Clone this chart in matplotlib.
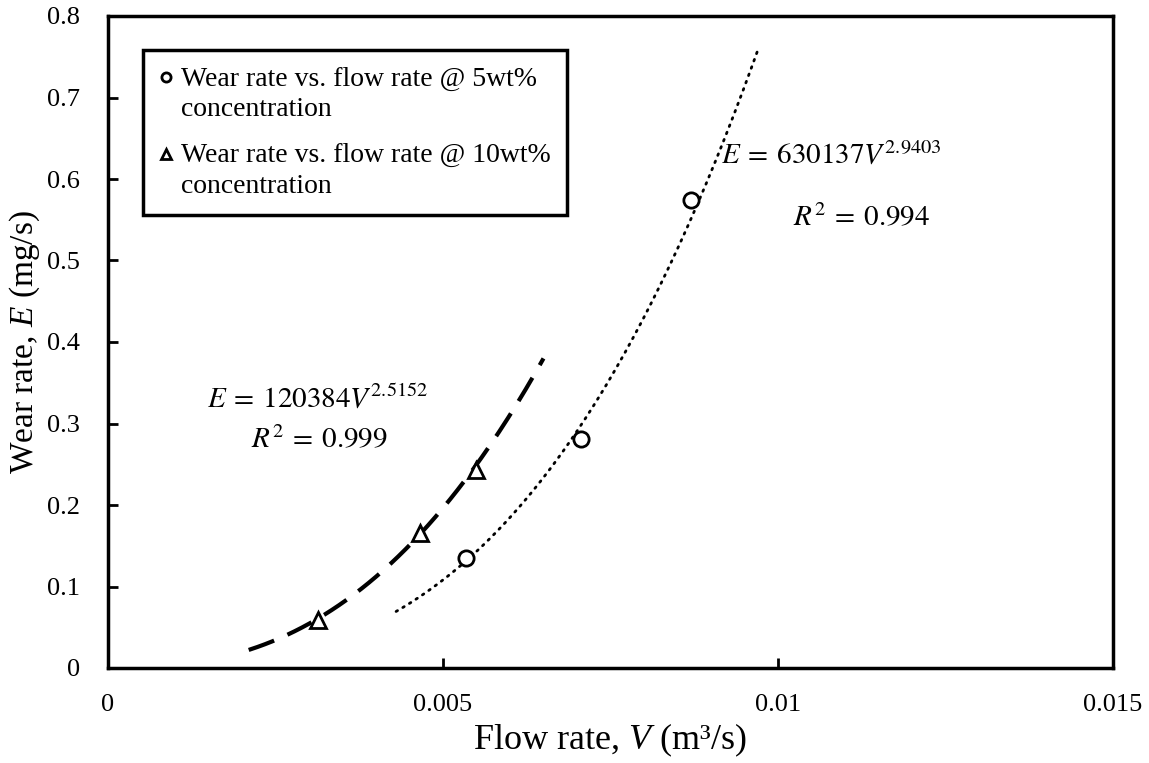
import numpy as np
import matplotlib
matplotlib.use("Agg")
import matplotlib.pyplot as plt
from matplotlib.ticker import FuncFormatter, MultipleLocator
from matplotlib.legend_handler import HandlerLine2D

plt.rcParams['font.family'] = ['Liberation Serif', 'DejaVu Serif']
plt.rcParams['mathtext.fontset'] = 'custom'
plt.rcParams['mathtext.rm'] = 'Liberation Serif'
plt.rcParams['mathtext.it'] = 'Liberation Serif:italic'

# Data
v_5wt = [0.00534, 0.00706, 0.00870]
e_5wt = [0.135, 0.281, 0.574]
v_10wt = [0.00313, 0.00466, 0.00549]
e_10wt = [0.059, 0.166, 0.243]

# Power-law trendlines as given in the chart
fit_5wt_a, fit_5wt_b = 630137, 2.9403
fit_5wt_range = (0.0043, 0.0097)
fit_10wt_a, fit_10wt_b = 120384, 2.5152
fit_10wt_range = (0.0021, 0.0065)

label_5wt = "Wear rate vs. flow rate @ 5wt%\nconcentration"
label_10wt = "Wear rate vs. flow rate @ 10wt%\nconcentration"


class TopLineHandler(HandlerLine2D):
    """Place the legend marker next to the first line of a two-line label."""
    def create_artists(self, legend, orig_handle, xdescent, ydescent, width,
                       height, fontsize, trans):
        arts = super().create_artists(legend, orig_handle, xdescent, ydescent,
                                      width, height, fontsize, trans)
        for a in arts:
            a.set_ydata(np.asarray(a.get_ydata()) + 0.62 * fontsize)
        return arts


fig = plt.figure(figsize=(11.49, 7.63), dpi=100)
ax = fig.add_axes([108/1149, (763-668)/763, 1005/1149, 652/763])

vv = np.linspace(*fit_5wt_range, 200)
ax.plot(vv, fit_5wt_a * vv**fit_5wt_b, color='black', lw=2, linestyle=(0, (0.6, 2.2)),
        dash_capstyle='round')
vv = np.linspace(*fit_10wt_range, 200)
ax.plot(vv, fit_10wt_a * vv**fit_10wt_b, color='black', lw=3, linestyle=(0, (6.5, 3.5)))

h1, = ax.plot(v_5wt, e_5wt, 'o', ms=11, mfc='white', mec='black', mew=2, label=label_5wt)
h2, = ax.plot(v_10wt, e_10wt, '^', ms=11, mfc='white', mec='black', mew=2, label=label_10wt)

ax.set_xlim(0, 0.015)
ax.set_ylim(0, 0.8)
ax.xaxis.set_major_locator(MultipleLocator(0.005))
ax.yaxis.set_major_locator(MultipleLocator(0.1))
fmt = FuncFormatter(lambda x, p: '{:g}'.format(round(x, 6)))
ax.xaxis.set_major_formatter(fmt)
ax.yaxis.set_major_formatter(fmt)
ax.tick_params(direction='in', length=7, width=2, labelsize=19, top=False, right=False)
ax.tick_params(axis='x', pad=19)
ax.tick_params(axis='y', pad=20)
for s in ax.spines.values():
    s.set_linewidth(2.5)

ax.set_xlabel('Flow rate, $\\it{V}$ (m³/s)', fontsize=26, labelpad=4)
ax.set_ylabel('Wear rate, $\\it{E}$ (mg/s)', fontsize=24, labelpad=4)

leg = ax.legend(handles=[h1, h2], loc='upper left', bbox_to_anchor=(0.035, 0.948),
                fontsize=20, frameon=True, fancybox=False, edgecolor='black',
                framealpha=1, handlelength=0.45, handletextpad=0.3, markerscale=0.6,
                labelspacing=0.75, borderpad=0.6, borderaxespad=0,
                handler_map={h1: TopLineHandler(), h2: TopLineHandler()})
for t in leg.get_texts():
    t.set_linespacing(1.3)
leg.get_frame().set_linewidth(2.5)

eq_kw = dict(fontsize=21, ha='center', va='center', math_fontfamily='stix')
ax.text(0.01079, 0.629, r'$E\:=\:630137V^{2.9403}$', **eq_kw)
ax.text(0.01125, 0.552, r'$R^2\:=\:0.994$', **eq_kw)
ax.text(0.00313, 0.331, r'$E\:=\:120384V^{2.5152}$', **eq_kw)
ax.text(0.00315, 0.279, r'$R^2\:=\:0.999$', **eq_kw)

fig.savefig('out.png', dpi=100)
